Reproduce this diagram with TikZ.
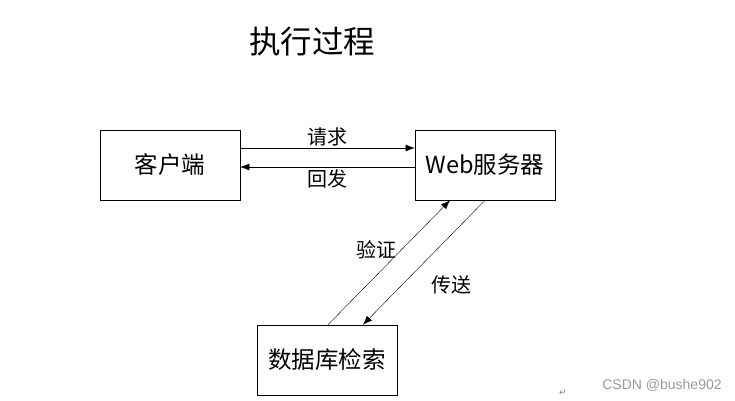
\documentclass[tikz,border=0pt]{standalone}
\usepackage{fontspec}
\setmainfont{Noto Sans CJK SC}
\newfontfamily\wmfont{Liberation Sans}
\newfontfamily\symfont{DejaVu Sans}
\usetikzlibrary{arrows.meta,positioning,calc}

\begin{document}
\begin{tikzpicture}[x=1pt,y=-1pt]
  \tikzstyle{box}=[rectangle, draw, semithick, minimum width=140pt, minimum height=70pt, font=\fontsize{23.5}{28}\selectfont, align=center, inner sep=0pt]
  \tikzstyle{lbl}=[font=\fontsize{20}{24}\selectfont, inner sep=1pt]
  \tikzstyle{link}=[-{Latex[length=9pt,width=7pt]}, thin]
  \useasboundingbox (0,0) rectangle (735,400);

  % Titel
  \node[font=\fontsize{31.5}{36}\selectfont] (title) at (312,42) {执行过程};

  % Kaesten
  \node[box] (client) at (170,165) {客户端};
  \node[box] (server) at (485,165) {Web服务器};
  \node[box] (db) at (327,360) {数据库检索};

  % Verbindungen
  \draw[link] ([yshift=17pt]client.east) -- node[lbl, above=1pt] (req) {请求} ([yshift=17pt]server.west);
  \draw[link] ([yshift=-2pt]server.west) -- node[lbl, below=1pt] (resp) {回发} ([yshift=-2pt]client.east);
  \draw[link] ([xshift=1pt]db.north) -- node[lbl, pos=0.6, left=4pt] (check) {验证} ([xshift=-35pt]server.south);
  \draw[link] (server.south) -- node[lbl, pos=0.68, right=28pt] (send) {传送} ([xshift=36pt]db.north);

  % Wasserzeichen
  \node[font=\symfont\fontsize{9}{11}\selectfont, text=gray] (ret) at (563,393) {↵};
  \node[font=\wmfont\fontsize{14}{16}\selectfont, text=gray!80] (wm) at (662,385) {CSDN @bushe902};
\end{tikzpicture}
\end{document}
